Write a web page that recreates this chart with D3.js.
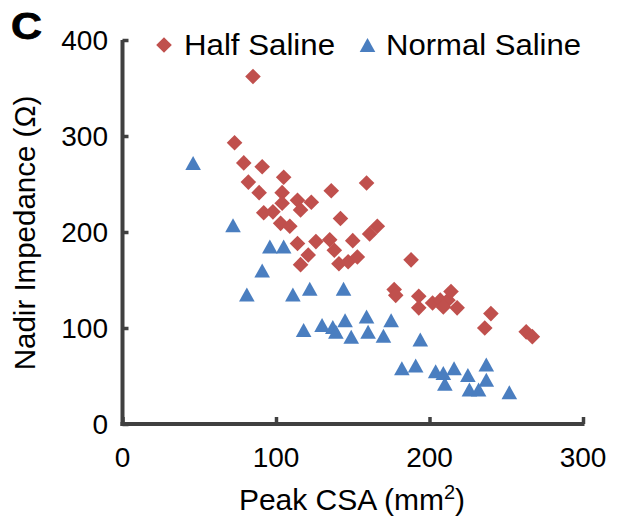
<!DOCTYPE html>
<html>
<head>
<meta charset="utf-8">
<script src="https://cdn.jsdelivr.net/npm/d3@7/dist/d3.min.js"></script>
<style>
  html, body { margin: 0; padding: 0; background: #fff; }
  svg { display: block; font-family: Arial, "Liberation Sans", sans-serif; }
</style>
</head>
<body>
<svg id="chart" width="620" height="526"></svg>
<script>
// ---- Data (Peak CSA mm^2, Nadir Impedance ohm) ----
const halfSalineX = [85, 73, 79, 91, 82, 105, 89, 104, 92, 98, 104, 103, 109, 114, 123, 116,
  136, 159, 142, 166, 161, 114, 126, 135, 150, 121, 138, 116, 141, 147, 153,
  188, 177, 178, 193, 193, 202, 207, 212, 214, 209, 218, 240, 236, 263, 267];
const halfSalineY = [362, 293, 272, 268, 252, 257, 241, 241, 220, 221, 230, 209, 206, 233, 231, 223,
  243, 251, 214, 206, 198, 188, 190, 192, 191, 176, 181, 166, 167, 169, 174,
  171, 140, 134, 133, 121, 126, 129, 129, 138, 122, 121, 115, 100, 96, 91];

const normalSalineX = [46, 72, 96, 105, 91, 81, 111, 122, 144, 118, 130, 137, 139, 145, 149, 159,
  160, 170, 175, 194, 182, 191, 204, 209, 210, 216, 225, 226, 232, 237, 237, 252];
const normalSalineY = [272, 207, 185, 185, 160, 135, 135, 141, 141, 98, 103, 101, 96, 108, 91, 112,
  96, 92, 108, 88, 58, 61, 55, 53, 42, 58, 51, 36, 36, 62, 46, 33];

const xTicks = [0, 100, 200, 300];
const yTicks = [0, 100, 200, 300, 400];
const seriesNames = ["Half Saline", "Normal Saline"];
const seriesColors = ["#C0504D", "#4A7EC0"];

// ---- Layout ----
const svg = d3.select("#chart");
const x = d3.scaleLinear().domain([0, 300]).range([122.5, 583]);
const y = d3.scaleLinear().domain([0, 400]).range([424, 40]);
const axisColor = "#404040";

// Marker shapes (centered on bounding box like Excel markers)
const diamondPath = "M0,-7.8L7.8,0L0,7.8L-7.8,0Z";
const trianglePath = "M0,-7L7.8,7L-7.8,7Z";

// ---- Axes ----
const yAxis = d3.axisRight(y).tickValues(yTicks).tickSize(6).tickFormat("");
const gy = svg.append("g").attr("transform", `translate(${x(0)},0)`).call(yAxis);
const xAxis = d3.axisTop(x).tickValues(xTicks).tickSize(7).tickFormat("");
const gx = svg.append("g").attr("transform", `translate(0,${y(0)})`).call(xAxis);
[gx, gy].forEach(g => {
  g.select(".domain").remove();
  g.selectAll(".tick line").attr("stroke", axisColor).attr("stroke-width", 3.5);
});
svg.append("line").attr("x1", x(0)).attr("x2", x(0)).attr("y1", y(400)).attr("y2", y(0) + 2)
  .attr("stroke", axisColor).attr("stroke-width", 4);
svg.append("line").attr("x1", x(0) - 2).attr("x2", x(300) + 1.5).attr("y1", y(0)).attr("y2", y(0))
  .attr("stroke", axisColor).attr("stroke-width", 4);

// Tick labels
svg.append("g").selectAll("text").data(yTicks).join("text")
  .attr("x", 108).attr("y", d => y(d) + 10)
  .attr("text-anchor", "end").attr("font-size", 28).attr("fill", "#000")
  .text(d => d);
svg.append("g").selectAll("text").data(xTicks).join("text")
  .attr("x", d => x(d)).attr("y", 467)
  .attr("text-anchor", "middle").attr("font-size", 28).attr("fill", "#000")
  .text(d => d);

// Axis titles
svg.append("text")
  .attr("transform", "translate(35,233) rotate(-90)")
  .attr("text-anchor", "middle").attr("font-size", 29.5).attr("fill", "#000")
  .text("Nadir Impedance (Ω)");
const xt = svg.append("text")
  .attr("x", 352).attr("y", 510)
  .attr("text-anchor", "middle").attr("font-size", 30).attr("fill", "#000");
xt.append("tspan").text("Peak CSA (mm");
xt.append("tspan").attr("font-size", 20).attr("dy", -11).text("2");
xt.append("tspan").attr("dy", 11).text(")");

// Panel letter
svg.append("text").attr("x", 11).attr("y", 39)
  .attr("font-size", 37).attr("font-weight", "bold").attr("fill", "#000")
  .attr("stroke", "#000").attr("stroke-width", 0.8)
  .attr("textLength", 31).attr("lengthAdjust", "spacingAndGlyphs")
  .text("C");

// ---- Points ----
const half = halfSalineX.map((v, i) => ({ x: v, y: halfSalineY[i] }));
const normal = normalSalineX.map((v, i) => ({ x: v, y: normalSalineY[i] }));

svg.append("g").selectAll("path").data(normal).join("path")
  .attr("d", trianglePath)
  .attr("transform", d => `translate(${x(d.x)},${y(d.y)})`)
  .attr("fill", seriesColors[1]);

svg.append("g").selectAll("path").data(half).join("path")
  .attr("d", diamondPath)
  .attr("transform", d => `translate(${x(d.x)},${y(d.y)})`)
  .attr("fill", seriesColors[0]);

// ---- Legend ----
const legend = svg.append("g");
legend.append("path").attr("d", diamondPath).attr("transform", "translate(164,45)").attr("fill", seriesColors[0]);
legend.append("text").attr("x", 184).attr("y", 55).attr("font-size", 30).attr("fill", "#000")
  .attr("textLength", 151).attr("lengthAdjust", "spacingAndGlyphs").text(seriesNames[0]);
legend.append("path").attr("d", trianglePath).attr("transform", "translate(367.5,45)").attr("fill", seriesColors[1]);
legend.append("text").attr("x", 386).attr("y", 55).attr("font-size", 30).attr("fill", "#000")
  .attr("textLength", 195).attr("lengthAdjust", "spacingAndGlyphs").text(seriesNames[1]);
</script>
</body>
</html>
